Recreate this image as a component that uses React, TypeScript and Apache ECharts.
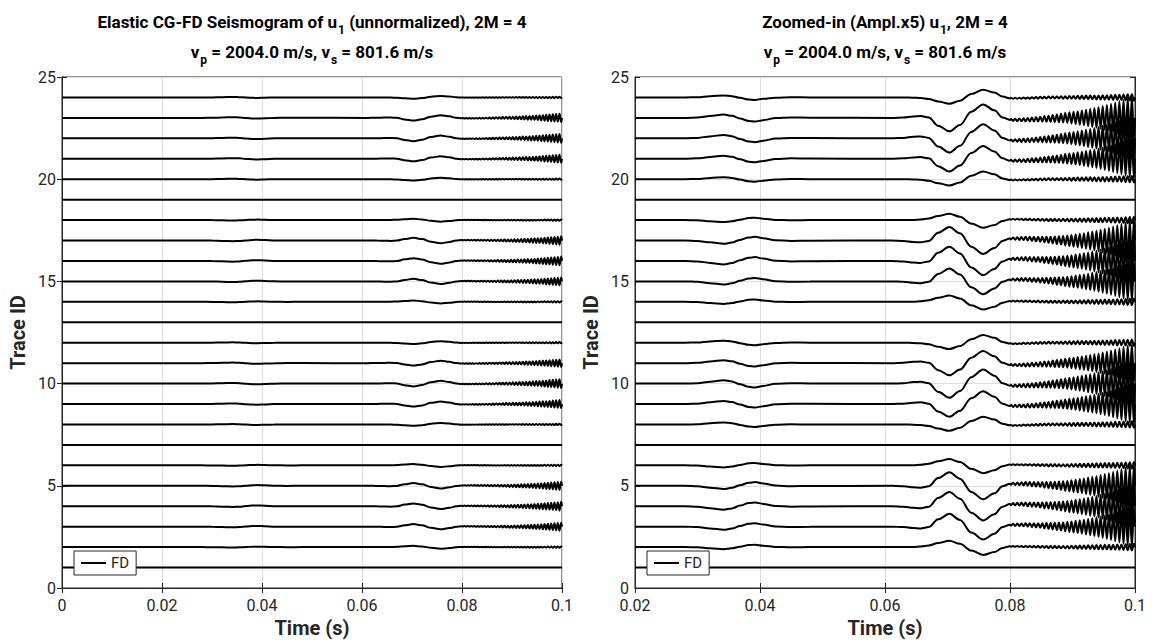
import React, { useEffect, useRef } from "react";
import * as echarts from "echarts";

// ---- Trace layout ----
const TRACE_IDS = [1, 2, 3, 4, 5, 6, 7, 8, 9, 10, 11, 12, 13, 14, 15, 16, 17, 18, 19, 20, 21, 22, 23, 24];
const TRACE_KIND = [
  "flat", "edge", "mid", "mid", "mid", "edge",
  "flat", "edge", "mid", "mid", "mid", "edge",
  "flat", "edge", "mid", "mid", "mid", "edge",
  "flat", "edge", "mid", "mid", "mid", "edge",
];
const TRACE_SIGN = [0, -1, -1, -1, -1, -1, 0, 1, 1, 1, 1, 1, 0, -1, -1, -1, -1, -1, 0, 1, 1, 1, 1, 1];
const TRACE_GAIN = [0, 1, 0.95, 1.05, 1, 1, 0, 1, 0.95, 1.05, 0.9, 1, 0, 1, 0.95, 1.05, 1, 1, 0, 1, 0.95, 1.05, 1, 1];

// ---- Waveform knots (zoomed-in amplitude units, trace spacing = 1) ----
const WAVE_T = [
  0, 0.02, 0.028, 0.03, 0.032, 0.0342, 0.0355, 0.0368, 0.0382, 0.0392, 0.0405, 0.0425, 0.045, 0.048,
  0.061, 0.063, 0.0645, 0.0657, 0.067, 0.0685, 0.0703, 0.072, 0.0738, 0.0757, 0.0775, 0.0788, 0.08,
];
const WAVE_MID = [
  0, 0, 0, 0.02, 0.09, 0.16, 0.1, -0.03, -0.15, -0.18, -0.11, -0.01, 0.02, 0.01,
  0, 0.02, 0.07, 0.09, 0.02, -0.38, -0.66, -0.35, 0.3, 0.66, 0.37, 0.02, -0.1,
];
const WAVE_EDGE = [
  0, 0, 0, 0.01, 0.06, 0.1, 0.06, -0.02, -0.1, -0.12, -0.07, -0.01, 0.01, 0,
  0, 0, -0.01, -0.03, -0.08, -0.2, -0.31, -0.16, 0.17, 0.38, 0.24, 0.04, -0.04,
];

// ---- Late high-frequency oscillation (per cycle) ----
const OSC_START = 0.08;
const OSC_CYCLES = 30;
const OSC_AMP_MID = [
  0.05, 0.06, 0.07, 0.08, 0.09, 0.1, 0.11, 0.12, 0.14, 0.15, 0.17, 0.19, 0.21, 0.24, 0.27,
  0.3, 0.33, 0.36, 0.4, 0.44, 0.48, 0.53, 0.58, 0.63, 0.69, 0.75, 0.81, 0.88, 0.95, 1.02,
];
const OSC_OFF_MID = [
  -0.1, -0.1, -0.1, -0.1, -0.09, -0.08, -0.07, -0.06, -0.05, -0.04, -0.03, -0.02, -0.01, 0, 0,
  0, 0, 0, 0, 0, 0, 0, 0, 0, 0, 0, 0, 0, 0, 0,
];
const OSC_AMP_EDGE = [
  0.02, 0.02, 0.02, 0.03, 0.03, 0.03, 0.04, 0.04, 0.04, 0.05, 0.05, 0.05, 0.06, 0.06, 0.07,
  0.07, 0.08, 0.08, 0.09, 0.09, 0.1, 0.1, 0.11, 0.11, 0.12, 0.13, 0.13, 0.14, 0.15, 0.16,
];
const OSC_OFF_EDGE = [
  -0.04, -0.04, -0.04, -0.03, -0.03, -0.02, -0.02, -0.01, -0.01, 0, 0, 0, 0, 0, 0,
  0, 0, 0, 0, 0, 0, 0, 0, 0, 0, 0, 0, 0, 0, 0,
];

const PANEL_SCALE = [0.2, 1]; // unnormalized, zoomed-in (Ampl.x5)
const PANEL_XMIN = [0, 0.02];
const X_MAX = 0.1;
const X_TICKS_STEP = 0.02;
const Y_MIN = 0;
const Y_MAX = 25;
const Y_STEP = 5;

function traceData(idx: number, xmin: number, scale: number) {
  const id = TRACE_IDS[idx];
  const kind = TRACE_KIND[idx];
  if (kind === "flat") return [[xmin, id], [X_MAX, id]];
  const k = TRACE_SIGN[idx] * TRACE_GAIN[idx] * scale;
  const shape = kind === "mid" ? WAVE_MID : WAVE_EDGE;
  const amp = kind === "mid" ? OSC_AMP_MID : OSC_AMP_EDGE;
  const off = kind === "mid" ? OSC_OFF_MID : OSC_OFF_EDGE;
  const pts: number[][] = [];
  WAVE_T.forEach((t, i) => {
    if (t >= xmin && t <= OSC_START) pts.push([t, id + k * shape[i]]);
  });
  const period = (X_MAX - OSC_START) / OSC_CYCLES;
  for (let c = 0; c < OSC_CYCLES; c++) {
    const t0 = OSC_START + c * period;
    pts.push([t0 + 0.25 * period, id + k * (off[c] + amp[c])]);
    pts.push([t0 + 0.75 * period, id + k * (off[c] - amp[c])]);
  }
  pts.push([X_MAX, id + k * off[OSC_CYCLES - 1]]);
  return pts;
}

const AX = "#262626";
const FONT = "Roboto";

const fmt = (v: number) => String(parseFloat(v.toFixed(3)));

function buildOption() {
  const grids = [
    { left: 62, top: 77, width: 500, bottom: 54 },
    { left: 635, top: 77, width: 500, bottom: 54 },
  ].map((g) => ({ ...g, show: true, borderColor: AX, borderWidth: 1, backgroundColor: "transparent" }));

  const xAxes: any[] = [];
  const yAxes: any[] = [];
  [0, 1].forEach((p) => {
    xAxes.push({
      gridIndex: p, type: "value", position: "bottom",
      min: PANEL_XMIN[p], max: X_MAX, interval: X_TICKS_STEP,
      axisLine: { show: true, lineStyle: { color: AX, width: 1 } },
      axisTick: { show: true, inside: true, length: 5, lineStyle: { color: AX } },
      axisLabel: { fontSize: 16, lineHeight: 14, color: AX, margin: 10, fontFamily: FONT, formatter: fmt },
      splitLine: { show: true, lineStyle: { color: "#dedede", width: 1 } },
      name: "Time (s)", nameLocation: "middle", nameGap: 30,
      nameTextStyle: { fontSize: 20, fontWeight: "bold", color: AX, fontFamily: FONT },
    });
    yAxes.push({
      gridIndex: p, type: "value", position: "left",
      min: Y_MIN, max: Y_MAX, interval: Y_STEP,
      axisLine: { show: true, lineStyle: { color: AX, width: 1 } },
      axisTick: { show: true, inside: true, length: 5, lineStyle: { color: AX } },
      axisLabel: { fontSize: 16, lineHeight: 14, color: AX, margin: 6, fontFamily: FONT },
      splitLine: { show: true, lineStyle: { color: "#dedede", width: 1 } },
      name: "Trace ID", nameLocation: "middle", nameGap: 34, nameRotate: 90,
      nameTextStyle: { fontSize: 20, fontWeight: "bold", color: AX, fontFamily: FONT },
    });
  });
  [0, 1].forEach((p) => {
    xAxes.push({
      gridIndex: p, type: "value", position: "top",
      min: PANEL_XMIN[p], max: X_MAX, interval: X_TICKS_STEP,
      axisLine: { show: true, lineStyle: { color: AX } },
      axisTick: { show: true, inside: true, length: 5, lineStyle: { color: AX } },
      axisLabel: { show: false }, splitLine: { show: false },
    });
    yAxes.push({
      gridIndex: p, type: "value", position: "right",
      min: Y_MIN, max: Y_MAX, interval: Y_STEP,
      axisLine: { show: true, lineStyle: { color: AX } },
      axisTick: { show: true, inside: true, length: 5, lineStyle: { color: AX } },
      axisLabel: { show: false }, splitLine: { show: false },
    });
  });

  const series: any[] = [];
  [0, 1].forEach((p) => {
    TRACE_IDS.forEach((_, i) => {
      series.push({
        type: "line", name: "FD", xAxisIndex: p, yAxisIndex: p,
        data: traceData(i, PANEL_XMIN[p], PANEL_SCALE[p]),
        showSymbol: false, symbol: "none", smooth: 0.35, smoothMonotone: "x",
        clip: true, silent: true,
        lineStyle: { color: "#000", width: 2 }, itemStyle: { color: "#000" },
      });
    });
  });

  const legendBase = {
    data: ["FD"], orient: "horizontal", top: 551,
    icon: "rect", itemWidth: 25, itemHeight: 2,
    padding: [4, 7, 4, 7], borderColor: AX, borderWidth: 1, backgroundColor: "#fff",
    textStyle: { fontSize: 15, color: AX, fontFamily: FONT, lineHeight: 16 },
    selectedMode: false,
  };

  const rich = {
    b: { fontFamily: FONT, fontWeight: "bold", fontSize: 17, fill: "#000", color: "#000", verticalAlign: "top", lineHeight: 22 },
    s: { fontFamily: FONT, fontWeight: "bold", fontSize: 12, fill: "#000", color: "#000", verticalAlign: "top", lineHeight: 13, padding: [11, 0, 0, 1] },
  };
  const titleText = (x: number, y: number, text: string) => ({
    type: "text", x, y, silent: true,
    style: { text, rich, align: "center", textAlign: "center", verticalAlign: "top", textVerticalAlign: "top", font: "bold 17px Roboto", fill: "#000" },
  });

  return {
    animation: false,
    textStyle: { fontFamily: FONT },
    grid: grids,
    xAxis: xAxes,
    yAxis: yAxes,
    legend: [
      { ...legendBase, left: 74 },
      { ...legendBase, left: 647 },
    ],
    graphic: [
      titleText(312, 13, "{b|Elastic CG-FD Seismogram of u}{s|1}{b| (unnormalized), 2M = 4}"),
      titleText(312, 43, "{b|v}{s|p}{b| = 2004.0 m/s, v}{s|s}{b| = 801.6 m/s}"),
      titleText(885, 13, "{b|Zoomed-in (Ampl.x5) u}{s|1}{b|, 2M = 4}"),
      titleText(885, 43, "{b|v}{s|p}{b| = 2004.0 m/s, v}{s|s}{b| = 801.6 m/s}"),
    ],
    series,
  };
}

export default function App() {
  const ref = useRef<HTMLDivElement>(null);
  useEffect(() => {
    document.body.style.margin = "0";
    const chart = echarts.init(ref.current!, undefined, { renderer: "svg" });
    chart.setOption(buildOption() as any);
    return () => chart.dispose();
  }, []);
  return <div ref={ref} style={{ width: 1156, height: 643, background: "#fff" }} />;
}
